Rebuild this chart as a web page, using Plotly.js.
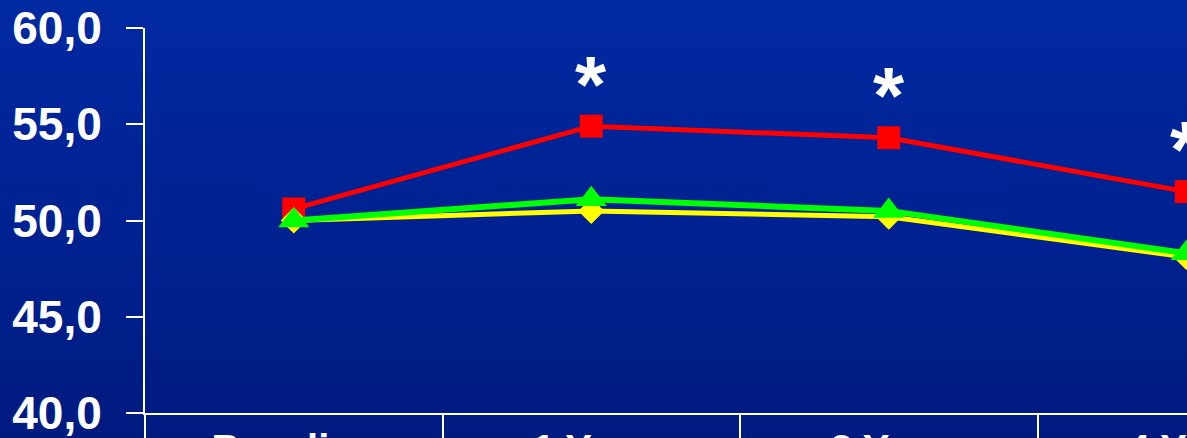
<!DOCTYPE html>
<html>
<head>
<meta charset="utf-8">
<script src="https://cdn.plot.ly/plotly-3.0.1.min.js"></script>
<style>
html, body { margin:0; padding:0; width:1187px; height:438px; overflow:hidden; }
body { background: linear-gradient(to bottom, #0029a2 0%, #00208e 60%, #001b80 100%); }
#chart { width:1340px; height:500px; }
</style>
</head>
<body>
<div id="chart"></div>
<script>
const categories = ["Baseline", "1 Year", "2 Year", "4 Year"];
const redValues = [50.6, 54.9, 54.3, 51.5];
const yellowValues = [50.0, 50.5, 50.2, 48.1];
const greenValues = [50.0, 51.1, 50.5, 48.3];
const significance = ["", "*", "*", "*"];
const yTickValues = [40, 45, 50, 55, 60];
const yTickLabels = ["40,0", "45,0", "50,0", "55,0", "60,0"];

const FONT = "'Liberation Sans', Arial, Helvetica, sans-serif";

const traces = [
  { x: categories, y: redValues, type: "scatter", mode: "lines+markers",
    line: { color: "#ff0000", width: 5 },
    marker: { symbol: "square", size: 23, color: "#ff0000" }, hoverinfo: "none" },
  { x: categories, y: yellowValues, type: "scatter", mode: "lines+markers",
    line: { color: "#ffff00", width: 5 },
    marker: { symbol: "diamond", size: 20, color: "#ffff00" }, hoverinfo: "none" },
  { x: categories, y: greenValues, type: "scatter", mode: "lines+markers",
    line: { color: "#00ff00", width: 6 },
    marker: { symbol: "triangle-up", size: 27, color: "#00ff00" }, hoverinfo: "none" }
];

const annotations = categories.map((c, i) => ({
  x: c, y: redValues[i], text: significance[i], showarrow: false,
  yshift: 42, font: { family: FONT, size: 80, color: "#ffffff", weight: "bold" }
})).filter(a => a.text);

const layout = {
  width: 1340, height: 500,
  margin: { l: 145, r: 5, t: 28, b: 87 },
  paper_bgcolor: "rgba(0,0,0,0)", plot_bgcolor: "rgba(0,0,0,0)",
  showlegend: false,
  font: { family: FONT, color: "#ffffff" },
  xaxis: {
    type: "category", range: [-0.5, 3.5], showgrid: false, zeroline: false,
    showline: true, linecolor: "#ffffff", linewidth: 2,
    ticks: "outside", tickson: "boundaries", ticklen: 37, tickwidth: 2, tickcolor: "#ffffff",
    tickfont: { size: 40, color: "#ffffff", family: FONT, weight: "bold" }
  },
  yaxis: {
    range: [40, 60], tickvals: yTickValues, ticktext: yTickLabels,
    showgrid: false, zeroline: false, showline: true, linecolor: "#ffffff", linewidth: 2,
    ticks: "outside", ticklen: 17, tickwidth: 2, tickcolor: "#ffffff",
    tickfont: { size: 46, color: "#ffffff", family: FONT, weight: "bold" },
    ticklabelstandoff: 15
  },
  annotations: annotations
};

Plotly.newPlot("chart", traces, layout, { staticPlot: true, displayModeBar: false });
</script>
</body>
</html>
